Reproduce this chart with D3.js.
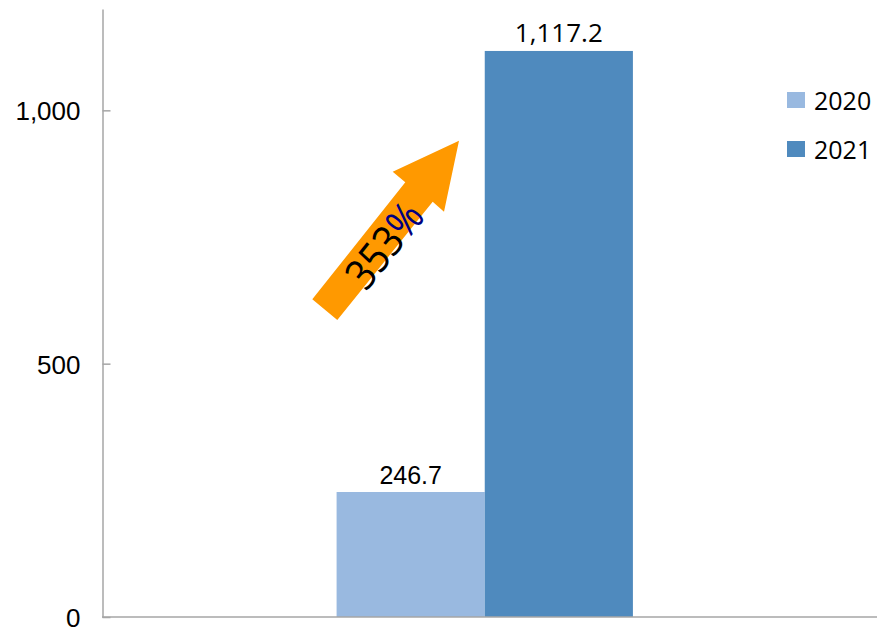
<!DOCTYPE html>
<html>
<head>
<meta charset="utf-8">
<script src="https://cdn.jsdelivr.net/npm/d3@7"></script>
<style>
  html, body { margin: 0; padding: 0; background: #fff; }
  svg { display: block; }
</style>
</head>
<body>
<svg id="chart" width="877" height="627"></svg>
<script>
// Data
const categories = ["total"];
const seriesNames = ["2020", "2021"];
const seriesValues = [246.7, 1117.2];
const valueLabels = ["246.7", "1,117.2"];
const yTicks = [0, 500, 1000];
const yTickLabels = ["0", "500", "1,000"];
const growthLabel = ["353", "%"];

const colors = ["#99B9E0", "#4F8ABE"];
const width = 877, height = 627;
const svg = d3.select("#chart");

const plot = { left: 102.5, right: 867, top: 9, bottom: 617 };

const y = d3.scaleLinear().domain([0, 1200]).range([plot.bottom, plot.top]);
const x = d3.scaleBand().domain(categories).range([plot.left, plot.right])
  .paddingInner(0).paddingOuter(0.79);
const xs = d3.scaleBand().domain(seriesNames).range([0, x.bandwidth()]).padding(0);

// Y axis with inward ticks
const yAxis = d3.axisRight(y).tickValues(yTicks)
  .tickFormat((d, i) => yTickLabels[i]).tickSize(8).tickSizeOuter(0);
const gy = svg.append("g").attr("transform", `translate(${plot.left},0)`).call(yAxis);
gy.attr("font-size", null).attr("font-family", null);
gy.select(".domain").attr("stroke", "#A6A6A6").attr("stroke-width", 1.5);
gy.selectAll(".tick line").attr("stroke", "#A6A6A6").attr("stroke-width", 1.5);
gy.selectAll(".tick text")
  .attr("x", -22).attr("dy", "0.36em")
  .attr("text-anchor", "end")
  .attr("fill", "#000")
  .style("font-family", "'Liberation Sans', Arial, sans-serif")
  .style("font-size", "26px");

// Bars
const group = svg.append("g").attr("transform", `translate(${x(categories[0])},0)`);
group.selectAll("rect").data(seriesValues).join("rect")
  .attr("x", (d, i) => xs(seriesNames[i]))
  .attr("width", xs.bandwidth())
  .attr("y", d => y(d))
  .attr("height", d => y(0) - y(d))
  .attr("fill", (d, i) => colors[i]);

// Value labels (the two labels use different faces)
const labelFonts = ["'Liberation Sans', Arial, sans-serif", "'Open Sans', sans-serif"];
const labelSizes = ["25px", "26px"];
group.selectAll("text.val").data(seriesValues).join("text")
  .attr("class", "val")
  .attr("x", (d, i) => xs(seriesNames[i]) + xs.bandwidth() / 2)
  .attr("y", d => y(d) - 8.5)
  .attr("text-anchor", "middle")
  .style("font-family", (d, i) => labelFonts[i])
  .style("font-size", (d, i) => labelSizes[i])
  .attr("fill", "#000")
  .text((d, i) => valueLabels[i]);

// X axis baseline
svg.append("line")
  .attr("x1", plot.left - 0.5).attr("x2", width)
  .attr("y1", y(0)).attr("y2", y(0))
  .attr("stroke", "#A6A6A6").attr("stroke-width", 1.5);

// Growth arrow
const arrowPts = [
  [312.3, 299.3], [405.3, 182.3], [392.7, 171.7], [459, 140.7],
  [444, 211.7], [432.7, 201.7], [337.3, 320]
];
svg.append("polygon")
  .attr("points", arrowPts.map(p => p.join(",")).join(" "))
  .attr("fill", "#FF9900");

const lbl = svg.append("text")
  .attr("transform", "translate(383,244) rotate(-51.4) scale(0.88,1)")
  .attr("text-anchor", "middle")
  .attr("dominant-baseline", "central")
  .style("font-family", "'Open Sans', sans-serif")
  .style("font-size", "43px");
lbl.append("tspan").attr("fill", "#000").text(growthLabel[0]);
lbl.append("tspan").attr("fill", "#000080").text(growthLabel[1]);

// Legend
const legend = svg.append("g");
const legendY = [100, 149];
seriesNames.forEach((name, i) => {
  legend.append("rect")
    .attr("x", 787).attr("y", legendY[i] - 8)
    .attr("width", 18).attr("height", 16)
    .attr("fill", colors[i]);
  legend.append("text")
    .attr("x", 814).attr("y", legendY[i])
    .attr("dominant-baseline", "central")
    .style("font-family", "'Open Sans', sans-serif")
    .style("font-size", "25px")
    .attr("fill", "#000")
    .text(name);
});
</script>
</body>
</html>
